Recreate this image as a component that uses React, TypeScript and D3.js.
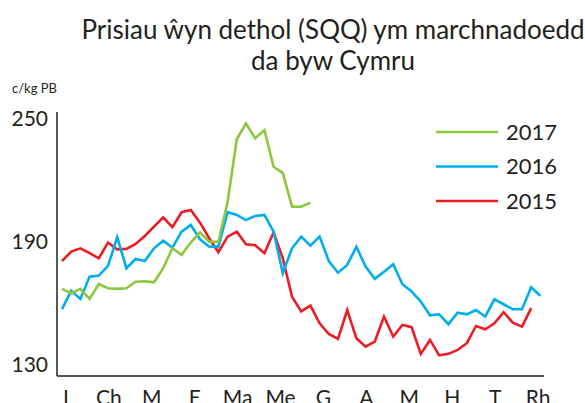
import * as d3 from 'd3';

const months = ['I', 'Ch', 'M', 'E', 'Ma', 'Me', 'G', 'A', 'M', 'H', 'T', 'Rh'];
const yTicks = [130, 190, 250];

const prices2015 = [
  180.7, 185.3, 186.9, 184.5, 182, 189.7, 186.4, 186.6, 189, 192.9, 197.5, 202, 197.2,
  204.5, 205.6, 199.4, 191.8, 185, 192.6, 195, 188.9, 188.4, 184.5, 194.7, 182, 163.3,
  156.1, 158.9, 150.3, 145.1, 142.7, 156.8, 143, 138.9, 141.4, 153.6, 143.8, 149.5, 148.4,
  135.4, 142.2, 134.7, 135.4, 137.3, 140.6, 149, 147.4, 150.3, 155.7, 150.6, 148.7, 157.7,
];
const prices2016 = [
  157.2, 166.2, 162.2, 173.1, 173.6, 178.3, 192.3, 177.2, 181.7, 180.7, 186.9, 190.6, 187.2,
  195, 198.3, 191.3, 187.7, 187.7, 204.5, 203.2, 200.7, 202.7, 203.2, 195, 174.7, 186.9,
  192.6, 188.2, 192.6, 180.7, 175, 178.8, 187.7, 178, 172, 175.5, 179.1, 169.4, 165.8,
  160.9, 154.2, 154.7, 149.9, 155.5, 154.7, 156.8, 153.6, 162, 159.6, 157.2, 157.2, 167.9,
  163.7,
];
const prices2017 = [
  167.1, 165, 167.1, 162.2, 169.5, 167.4, 167.1, 167.4, 170.6, 170.8, 170.3, 177.2, 186.9,
  183.7, 189.7, 194.7, 190.1, 190.1, 209.5, 240.2, 247.8, 240.6, 244.6, 226.7, 223.7, 207.2,
  207.2, 209.2,
];

const series = [
  { name: '2017', values: prices2017, color: '#8dc63f' },
  { name: '2016', values: prices2016, color: '#00aeef' },
  { name: '2015', values: prices2015, color: '#ed1c24' },
];

const font = 'Lato, "Open Sans", sans-serif';
const ink = '#231f20';

export default function App() {
  const width = 585;
  const height = 403;

  const x = d3.scaleLinear().domain([0, 52]).range([62, 540.4]);
  const y = d3.scaleLinear().domain([124.6, 253.4]).range([376, 112]);
  const xMonth = d3.scalePoint<number>().domain(d3.range(months.length)).range([66, 538]);

  const line = d3
    .line<number>()
    .x((_, i) => x(i))
    .y(d => y(d));

  // draw order: 2015 under 2016 under 2017
  const drawOrder = [...series].reverse();

  return (
    <svg
      width={width}
      height={height}
      style={{ position: 'absolute', left: 0, top: 0, background: '#fff' }}
      fontFamily={font}
    >
      <text x={333} y={39} textAnchor="middle" fontSize={26} fill={ink}>
        Prisiau ŵyn dethol (SQQ) ym marchnadoedd
      </text>
      <text x={333} y={70} textAnchor="middle" fontSize={26} fill={ink}>
        da byw Cymru
      </text>
      <text x={12} y={93} fontSize={13} fill={ink}>
        c/kg PB
      </text>

      <line x1={57} x2={57} y1={112} y2={376} stroke={ink} strokeWidth={1.5} />
      <line x1={57} x2={544} y1={376} y2={376} stroke={ink} strokeWidth={1.5} />

      {yTicks.map(t => (
        <text key={t} x={48} y={y(t)} dy="0.35em" textAnchor="end" fontSize={21} fill={ink}>
          {t}
        </text>
      ))}

      {months.map((m, i) => (
        <text key={i} x={xMonth(i)} y={405} textAnchor="middle" fontSize={21} fill={ink}>
          {m}
        </text>
      ))}

      {drawOrder.map(s => (
        <path
          key={s.name}
          d={line(s.values) ?? ''}
          fill="none"
          stroke={s.color}
          strokeWidth={2.6}
          strokeLinejoin="miter"
        />
      ))}

      {series.map((s, i) => (
        <g key={s.name} transform={`translate(436,${132 + i * 34.5})`}>
          <line x1={0} x2={62} y1={0} y2={0} stroke={s.color} strokeWidth={2.6} />
          <text x={70} y={0} dy="0.35em" fontSize={22} fill={ink}>
            {s.name}
          </text>
        </g>
      ))}
    </svg>
  );
}
